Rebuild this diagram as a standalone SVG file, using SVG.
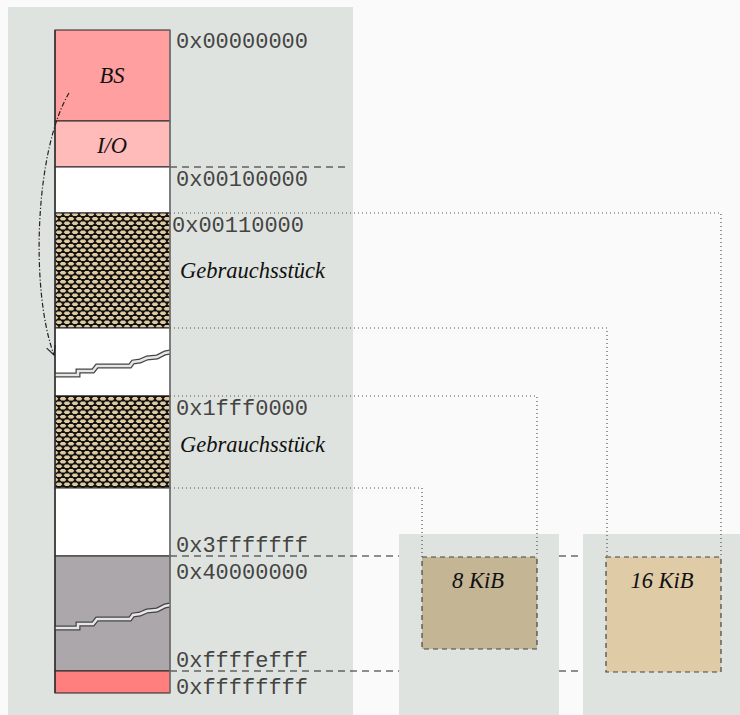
<svg xmlns="http://www.w3.org/2000/svg" width="740" height="715" viewBox="0 0 740 715">
<style>
.mono{font-family:"Liberation Mono","Courier New",monospace;font-size:22px;fill:#444}
.lbl{font-family:"Liberation Serif","Times New Roman",serif;font-style:italic;font-size:22.5px;fill:#111}
.panel{fill:#dfe3df}
.blk{stroke:#222;stroke-width:1}
.dash{fill:none;stroke:#222;stroke-width:1.2;stroke-dasharray:7 5}
.dot{fill:none;stroke:#555;stroke-width:1.2;stroke-dasharray:1 3}
.tear1{fill:none;stroke:#444;stroke-width:5;stroke-linejoin:miter}
.tear2{fill:none;stroke:#e6e6e6;stroke-width:2.5;stroke-linejoin:miter}
.tan{fill:#dfc9a0}
</style>
<defs>
<pattern id="hatch" width="8" height="9" patternUnits="userSpaceOnUse" x="55" y="212">
<rect width="8" height="9" fill="#111"/>
<polygon class="tan" points="0.6,2.25 2.4,0.45 5.6,0.45 7.4,2.25 5.6,4.05 2.4,4.05"/>
<polygon class="tan" points="-3.4,6.75 -1.6,4.95 1.6,4.95 3.4,6.75 1.6,8.55 -1.6,8.55"/>
<polygon class="tan" points="4.6,6.75 6.4,4.95 9.6,4.95 11.4,6.75 9.6,8.55 6.4,8.55"/>
</pattern>
<marker id="arr" markerWidth="12" markerHeight="12" refX="10" refY="6" orient="auto" markerUnits="userSpaceOnUse">
<path d="M1,1.5 L10,6 L1,10.5" fill="none" stroke="#222" stroke-width="1.1"/>
</marker>
</defs>
<rect width="740" height="715" fill="#fafafa"/>
<rect class="panel" x="8" y="7" width="345" height="708"/>

<g id="connectors">
<line class="dash" x1="170" y1="167" x2="348" y2="167"/>
<line class="dash" x1="170" y1="556" x2="399" y2="556"/>
<line class="dash" x1="559" y1="556" x2="583" y2="556"/>
<line class="dash" x1="170" y1="671" x2="399" y2="671"/>
<line class="dash" x1="559" y1="671" x2="583" y2="671"/>
</g>

<rect class="panel" x="399" y="534" width="160" height="181"/>
<rect class="panel" x="583" y="534" width="157" height="181"/>

<g id="memory">
<g id="bs"><rect class="blk" x="55" y="30" width="115" height="91" fill="#ff9f9f"/><text class="lbl" x="112" y="83" text-anchor="middle">BS</text></g>
<g id="io"><rect class="blk" x="55" y="121" width="115" height="46" fill="#ffbaba"/><text class="lbl" x="112" y="153" text-anchor="middle">I/O</text></g>
<g id="free1"><rect class="blk" x="55" y="167" width="115" height="46" fill="#fff"/></g>
<g id="use1"><rect class="blk" x="55" y="213" width="115" height="115" fill="url(#hatch)"/></g>
<g id="free2"><rect class="blk" x="55" y="328" width="115" height="68" fill="#fff"/>
<polyline class="tear1" points="55,375 78,375 78,371 93,371 97,366 130,366 133,362 140,361 147,358 157,357 165,353 170,352"/>
<polyline class="tear2" points="55,375 78,375 78,371 93,371 97,366 130,366 133,362 140,361 147,358 157,357 165,353 170,352"/>
</g>
<g id="use2"><rect class="blk" x="55" y="396" width="115" height="92" fill="url(#hatch)"/></g>
<g id="free3"><rect class="blk" x="55" y="488" width="115" height="68" fill="#fff"/></g>
<g id="high"><rect class="blk" x="55" y="556" width="115" height="115" fill="#aca7aa"/>
<polyline class="tear1" points="55,628 78,628 78,624 93,624 97,619 130,619 133,615 140,614 147,611 157,610 165,606 170,605"/>
<polyline class="tear2" points="55,628 78,628 78,624 93,624 97,619 130,619 133,615 140,614 147,611 157,610 165,606 170,605"/>
</g>
<g id="top"><rect class="blk" x="55" y="671" width="115" height="22" fill="#ff7f7f"/></g>
<line x1="170" y1="30" x2="170" y2="693" stroke="#777" stroke-width="1.5"/>
<line x1="55" y1="30" x2="55" y2="693" stroke="#333" stroke-width="1.5"/>
</g>

<g id="addresses">
<text class="mono" x="176" y="48">0x00000000</text>
<text class="mono" x="176" y="186">0x00100000</text>
<text class="mono" x="172" y="232">0x00110000</text>
<text class="mono" x="176" y="415">0x1fff0000</text>
<text class="mono" x="176" y="552">0x3fffffff</text>
<text class="mono" x="176" y="579">0x40000000</text>
<text class="mono" x="176" y="667">0xffffefff</text>
<text class="mono" x="176" y="694">0xffffffff</text>
<text class="lbl" x="180" y="278">Gebrauchsstück</text>
<text class="lbl" x="180" y="452">Gebrauchsstück</text>
</g>

<g id="links">
<polyline class="dot" points="170,213 721,213 721,557"/>
<polyline class="dot" points="170,328 607,328 607,557"/>
<polyline class="dot" points="170,396 537,396 537,557"/>
<polyline class="dot" points="170,488 422,488 422,557"/>
<path d="M69,93 C35,150 30,290 54,355" fill="none" stroke="#222" stroke-width="1.2" stroke-dasharray="5 2 1.2 2" marker-end="url(#arr)"/>
</g>

<g id="kib8"><rect x="422" y="557" width="115" height="92" fill="#c4b594" stroke="#444" stroke-width="1.2" stroke-dasharray="5 4"/><text class="lbl" x="478" y="588" text-anchor="middle">8 KiB</text></g>
<g id="kib16"><rect x="606" y="557" width="115" height="115" fill="#dfcba5" stroke="#444" stroke-width="1.2" stroke-dasharray="5 4"/><text class="lbl" x="662" y="588" text-anchor="middle">16 KiB</text></g>
</svg>
